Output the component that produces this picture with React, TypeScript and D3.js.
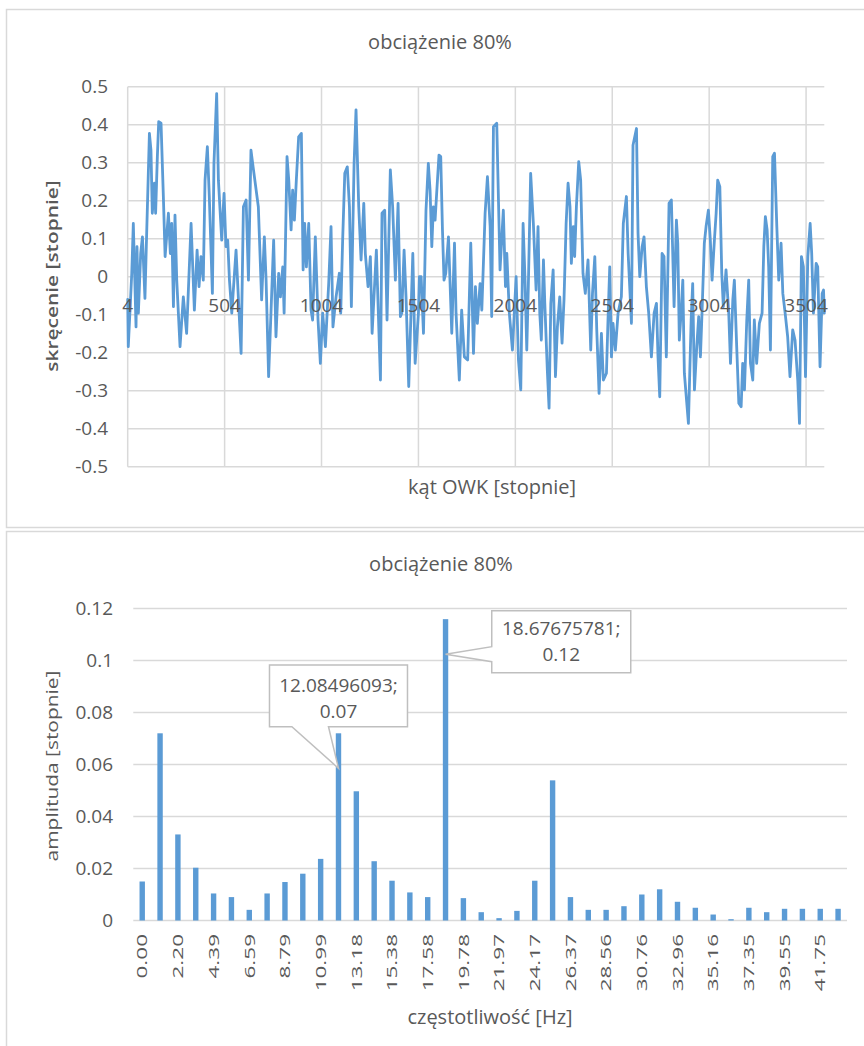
import * as d3 from "d3";
import React from "react";

// wykres 1: skręcenie w funkcji kąta OWK
const angleOWK = [
  4, 7, 25, 33, 47, 52, 59, 71, 80, 93, 100, 116, 124, 131, 142, 148, 157, 164, 176, 188,
  197, 214, 224, 231, 240, 248, 257, 274, 291, 308, 331, 348, 362, 372, 382, 394, 403, 415, 425, 441,
  449, 463, 472, 489, 501, 511, 520, 529, 541, 563, 589, 601, 615, 627, 640, 651, 678, 695, 709,
  718, 731, 757, 769, 783, 792, 804, 811, 817, 826, 835, 847, 855, 864, 874, 886, 900, 909, 917, 926,
  938, 950, 958, 972, 986, 998, 1010, 1024, 1041, 1053, 1063, 1079, 1096, 1103, 1113, 1124, 1137, 1148, 1158, 1172,
  1182, 1196, 1208, 1222, 1230, 1244, 1256, 1265, 1287, 1308, 1316, 1330, 1342, 1359, 1371, 1385, 1399, 1411,
  1418, 1430, 1440, 1454, 1475, 1487, 1504, 1509, 1518, 1530, 1543, 1555, 1564, 1573, 1581, 1590, 1598, 1610, 1619, 1628,
  1636, 1645, 1659, 1676, 1690, 1698, 1715, 1727, 1741, 1758, 1774, 1788, 1798, 1808, 1822, 1831, 1848, 1860, 1874, 1882,
  1891, 1908, 1920, 1925, 1942, 1953, 1960, 1973, 1989, 2008, 2020, 2032, 2044, 2054, 2063, 2071, 2083, 2097, 2111, 2121,
  2130, 2138, 2149, 2156, 2169, 2178, 2187, 2199, 2211, 2221, 2233, 2245, 2255, 2266, 2276, 2286, 2293, 2303, 2310, 2319,
  2331, 2341, 2353, 2365, 2379, 2393, 2402, 2414, 2424, 2436, 2448, 2458, 2474, 2482, 2491, 2500, 2508, 2520, 2534, 2551,
  2561, 2577, 2586, 2603, 2611, 2629, 2637, 2646, 2658, 2668, 2680, 2692, 2706, 2720, 2732, 2740, 2749, 2761, 2771, 2783,
  2797, 2809, 2823, 2835,
  2842, 2850, 2859, 2868, 2876, 2897, 2911, 2919, 2928, 2940, 2950, 2959, 2967, 2979, 2988, 3000, 3010, 3019, 3031, 3040,
  3048, 3059, 3069, 3077, 3091, 3105, 3114, 3126, 3134, 3146, 3157, 3169, 3177, 3186, 3198, 3208, 3217, 3229, 3237, 3249,
  3263, 3277, 3286, 3294, 3303, 3311, 3320, 3332, 3341, 3353, 3363, 3375, 3384, 3396, 3409, 3421, 3435, 3447, 3461, 3470,
  3480, 3490, 3501, 3513, 3525, 3533, 3542, 3556, 3564, 3576, 3587, 3594, 3598,
];

const twistDeg = [
  -0.06, -0.184, 0.009, 0.14, -0.132, 0.079, -0.096, 0.061, 0.105, -0.057, 0.079, 0.377, 0.333, 0.167, 0.246, 0.167, 0.316, 0.408, 0.404, 0.211,
  0.053, 0.167, 0.061, 0.14, -0.079, 0.162, -0.009, -0.184, -0.053, -0.149, 0.14, -0.088, 0.07, -0.026, 0.053, -0.009, 0.254, 0.342, 0.211, -0.044,
  0.298, 0.482, 0.254, 0.096, 0.219, 0.079, 0.096, -0.009, -0.096, 0.07, -0.202, 0.184, 0.202, -0.009, 0.333, 0.289, 0.184, -0.061, 0.105,
  -0.009, -0.263, 0.096, -0.158, 0.009, -0.053, 0.026, -0.096, 0.061, 0.316, 0.254, 0.123, 0.228, 0.149, 0.254, 0.368, 0.377, 0.018, 0.14, 0.026,
  0.14, -0.088, -0.114, 0.105, -0.114, -0.228, -0.096, -0.184, -0.018, 0.132, -0.132, -0.053, 0.009, -0.096, 0.096, 0.272, 0.289, 0.184, -0.079, 0.298,
  0.439, 0.184, 0.044, 0.193, 0.061, -0.026, 0.053, -0.149, 0.07, -0.272, 0.167, 0.175, -0.114, 0.281, 0.184, -0.009, 0.193, -0.105,
  -0.096, 0.07, -0.053, -0.289, 0.061, -0.228, -0.096, 0.0, 0.0, -0.149, 0.175, 0.298, 0.228, 0.079, 0.184, 0.149, 0.219, 0.32, 0.316, 0.123,
  -0.009, 0.009, 0.105, -0.149, 0.088, -0.096, -0.272, -0.088, -0.211, -0.219, 0.088, -0.202, -0.026, -0.123, -0.018, -0.088, 0.167, 0.263, 0.132, -0.105,
  0.395, 0.404, 0.132, 0.018, 0.175, -0.026, 0.061, -0.096, -0.193, 0.0, -0.219, -0.298, 0.14, -0.009, -0.193, -0.026, 0.272, 0.14, -0.035, 0.132,
  -0.096, -0.167, 0.044, -0.07, -0.246, -0.346, -0.07, 0.018, -0.263, -0.132, -0.053, -0.175, -0.061, 0.14, 0.246, 0.184, 0.035, 0.132, 0.053, 0.184,
  0.303, 0.254, 0.009, -0.044, 0.044, -0.193, -0.044, 0.053, -0.14, -0.307, -0.149, -0.272, -0.254, -0.114, 0.026, -0.211, -0.123, -0.193, -0.096, -0.053,
  0.14, 0.211, 0.061, -0.123, 0.346, 0.39, 0.114, 0.0, 0.079, 0.105, -0.026, -0.096, -0.211, -0.096, -0.07, -0.211, -0.316, 0.061, 0.053, -0.211,
  0.193, 0.202, -0.079, 0.149,
  0.088, -0.167, -0.096, -0.009, -0.254, -0.386, -0.114, -0.018, -0.298, -0.184, -0.105, -0.211, -0.096, 0.088, 0.132, 0.175, 0.096, -0.009, 0.096, 0.167,
  0.254, 0.237, 0.009, -0.079, 0.018, -0.096, -0.228, -0.061, -0.009, -0.184, -0.333, -0.342, -0.228, -0.298, -0.114, -0.009, -0.228, -0.272, -0.114, -0.228,
  -0.123, -0.096, 0.079, 0.158, 0.123, 0.026, -0.193, 0.316, 0.325, 0.132, -0.009, 0.088, -0.044, -0.096, -0.158, -0.263, -0.14, -0.167, -0.272, -0.386,
  0.053, 0.026, -0.263, 0.053, 0.14, 0.061, -0.096, 0.035, 0.026, -0.237, -0.044, -0.035, -0.096,
];

const angleTicks = [4, 504, 1004, 1504, 2004, 2504, 3004, 3504];
const twistTicks = [0.5, 0.4, 0.3, 0.2, 0.1, 0, -0.1, -0.2, -0.3, -0.4, -0.5];

// wykres 2: widmo amplitudy
const freqLabels = [
  "0.00", "1.10", "2.20", "3.30", "4.39", "5.49", "6.59", "7.69", "8.79", "9.89",
  "10.99", "12.08", "13.18", "14.28", "15.38", "16.48", "17.58", "18.68", "19.78", "20.87",
  "21.97", "23.07", "24.17", "25.27", "26.37", "27.47", "28.56", "29.66", "30.76", "31.86",
  "32.96", "34.06", "35.16", "36.25", "37.35", "38.45", "39.55", "40.65", "41.75", "42.85",
];
const amplitude = [
  0.015, 0.072, 0.0331, 0.0203, 0.0104, 0.009, 0.0041, 0.0104, 0.0148, 0.018,
  0.0237, 0.072, 0.0497, 0.0228, 0.0153, 0.0108, 0.009, 0.1159, 0.0086, 0.0032,
  0.0009, 0.0037, 0.0153, 0.0539, 0.009, 0.0041, 0.0041, 0.0055, 0.01, 0.012,
  0.0072, 0.0049, 0.0023, 0.0005, 0.0049, 0.0032, 0.0045, 0.0045, 0.0045, 0.0045,
];
const ampTicks = [0, 0.02, 0.04, 0.06, 0.08, 0.1, 0.12];
const calloutIdx = [11, 17];
const calloutText = [["12.08496093;", "0.07"], ["18.67675781;", "0.12"]];

const FONT = "'Open Sans', 'Segoe UI', sans-serif";
const TXT = "#595959";
const GRID = "#d9d9d9";
const BLUE = "#5b9bd5";

export default function App() {
  // --- górny wykres
  const xTop = d3.scaleLinear().domain([4, 3598]).range([127.7, 824.3]);
  const yTop = d3.scaleLinear().domain([-0.5, 0.5]).range([466.7, 86.7]);
  const pts = angleOWK.map((a, i) => [a, twistDeg[i]] as [number, number]);
  const linePath = d3.line().x(d => xTop(d[0])).y(d => yTop(d[1]))(pts) || "";

  // --- dolny wykres
  const xBot = d3.scaleBand().domain(freqLabels).range([133.3, 847]).padding(0);
  const yBot = d3.scaleLinear().domain([0, 0.12]).range([920.5, 608.5]);
  const bw = 5.4;
  const cx = (f: string) => (xBot(f) || 0) + xBot.bandwidth() / 2;

  const callouts = calloutIdx.map((idx, k) => {
    const tx = cx(freqLabels[idx]);
    const ty = yBot(amplitude[idx]) + 35;
    let path = "";
    let textX = 0;
    let base = 0;
    if (k === 0) {
      const l = tx - 69, r = tx + 69, t = ty - 103.3, b = ty - 41.6;
      path = `M${l},${t}H${r}V${b}H${tx - 10}L${tx},${ty}L${tx - 46.6},${b}H${l}Z`;
      textX = tx;
      base = ty - 76.6;
    } else {
      const l = tx + 46.2, r = tx + 185.2, t = ty - 43.5, b = ty + 18.5;
      path = `M${l},${t}H${r}V${b}H${l}V${ty + 7.5}L${tx},${ty}L${l},${ty - 7.5}Z`;
      textX = (l + r) / 2;
      base = ty - 19.2;
    }
    return { path, textX, base, lines: calloutText[k] };
  });

  return (
    <div style={{ position: "absolute", left: 0, top: 0 }}>
      <svg width={864} height={1046} style={{ display: "block", background: "#fff" }} fontFamily={FONT}>
        <rect x={0} y={0} width={864} height={1046} fill="#fff" />
        <rect x={6.5} y={9.5} width={870} height={518} fill="#fff" stroke={GRID} strokeWidth={1.5} />
        <rect x={6.5} y={531.5} width={870} height={530} fill="#fff" stroke={GRID} strokeWidth={1.5} />

        {/* górny wykres */}
        <text x={440} y={49} textAnchor="middle" fontSize={20} fill={TXT}>obciążenie 80%</text>
        {twistTicks.map(t => (
          <g key={"yt" + t}>
            <line x1={127.7} x2={824.3} y1={yTop(t)} y2={yTop(t)} stroke={GRID} strokeWidth={1.5} />
            <text x={108} y={yTop(t)} dy="0.35em" textAnchor="end" fontSize={19} fill={TXT}>{String(t)}</text>
          </g>
        ))}
        {angleTicks.map(a => (
          <line key={"xg" + a} x1={xTop(a)} x2={xTop(a)} y1={86.7} y2={466.7} stroke={GRID} strokeWidth={1.5} />
        ))}
        <path d={linePath} fill="none" stroke={BLUE} strokeWidth={2.8} strokeLinejoin="round" strokeLinecap="round" />
        {angleTicks.map(a => (
          <text key={"xt" + a} x={xTop(a)} y={312} textAnchor="middle" fontSize={19} fill={TXT}>{a}</text>
        ))}
        <text transform="translate(58,276) rotate(-90) scale(1.35,1)" textAnchor="middle" fontSize={15.5} fontWeight={600} fill={TXT}>
          skręcenie [stopnie]
        </text>
        <text x={492} y={494} textAnchor="middle" fontSize={20} fill={TXT}>kąt OWK [stopnie]</text>

        {/* dolny wykres */}
        <text x={441} y={571} textAnchor="middle" fontSize={20} fill={TXT}>obciążenie 80%</text>
        {ampTicks.map(t => (
          <g key={"at" + t}>
            <line x1={133.3} x2={847} y1={yBot(t)} y2={yBot(t)} stroke={GRID} strokeWidth={1.5} />
            <text x={113} y={yBot(t)} dy="0.35em" textAnchor="end" fontSize={19} fill={TXT}>{String(t)}</text>
          </g>
        ))}
        {amplitude.map((v, i) => (
          <rect key={"b" + i} x={cx(freqLabels[i]) - bw / 2} y={yBot(v)} width={bw} height={yBot(0) - yBot(v)} fill={BLUE} />
        ))}
        {freqLabels.map((f, i) => i % 2 === 0 ? (
          <text key={"fl" + f} transform={`translate(${cx(f)},934) rotate(-90) scale(1.5,1)`} dy="0.35em"
            textAnchor="end" fontSize={15} fill={TXT}>{f}</text>
        ) : null)}
        {callouts.map((c, k) => (
          <g key={"c" + k}>
            <path d={c.path} fill="#fff" stroke="#bfbfbf" strokeWidth={1.5} />
            <text x={c.textX} y={c.base} textAnchor="middle" fontSize={19} fill={TXT}>{c.lines[0]}</text>
            <text x={c.textX} y={c.base + 26} textAnchor="middle" fontSize={19} fill={TXT}>{c.lines[1]}</text>
          </g>
        ))}
        <text transform="translate(58,766) rotate(-90) scale(1.35,1)" textAnchor="middle" fontSize={15.5} fill={TXT}>
          amplituda [stopnie]
        </text>
        <text x={490} y={1024} textAnchor="middle" fontSize={20} fill={TXT}>częstotliwość [Hz]</text>
      </svg>
    </div>
  );
}
